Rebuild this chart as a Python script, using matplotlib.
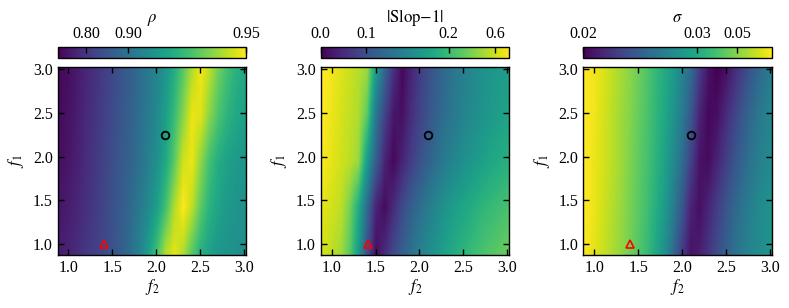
import numpy as np
import matplotlib
matplotlib.use("Agg")
import matplotlib.pyplot as plt

plt.rcParams['font.family'] = 'serif'
plt.rcParams['font.serif'] = ['Liberation Serif', 'DejaVu Serif']
plt.rcParams['mathtext.fontset'] = 'stix'
plt.rcParams['font.size'] = 11

# grid of the maps: f2 columns, f1 rows (bottom -> top)
f2 = [0.9, 1.0, 1.1, 1.2, 1.3, 1.4, 1.5, 1.6, 1.7, 1.8, 1.9,
      2.0, 2.1, 2.2, 2.3, 2.4, 2.5, 2.6, 2.7, 2.8, 2.9, 3.0]
f1 = [0.9, 1.425, 1.95, 2.475, 3.0]

# colour level (0 = darkest, 1 = brightest)
rho_level = [
    [0.08, 0.10, 0.13, 0.16, 0.19, 0.22, 0.26, 0.30, 0.36, 0.44, 0.55, 0.70, 0.88, 0.96, 0.88, 0.74, 0.63, 0.57, 0.53, 0.51, 0.50, 0.49],
    [0.06, 0.08, 0.11, 0.14, 0.17, 0.21, 0.25, 0.29, 0.34, 0.40, 0.47, 0.56, 0.70, 0.88, 1.00, 0.90, 0.75, 0.64, 0.58, 0.54, 0.52, 0.50],
    [0.04, 0.06, 0.09, 0.13, 0.16, 0.20, 0.24, 0.28, 0.32, 0.37, 0.43, 0.50, 0.60, 0.75, 0.93, 0.97, 0.83, 0.70, 0.62, 0.57, 0.54, 0.52],
    [0.03, 0.05, 0.08, 0.12, 0.15, 0.19, 0.23, 0.27, 0.31, 0.36, 0.41, 0.47, 0.56, 0.68, 0.82, 0.97, 0.95, 0.82, 0.72, 0.65, 0.60, 0.57],
    [0.02, 0.04, 0.07, 0.11, 0.14, 0.18, 0.22, 0.26, 0.30, 0.35, 0.40, 0.45, 0.52, 0.62, 0.74, 0.88, 0.98, 0.90, 0.78, 0.70, 0.64, 0.60],
]
slop_level = [
    [0.93, 0.90, 0.86, 0.75, 0.55, 0.25, 0.03, 0.12, 0.22, 0.30, 0.37, 0.43, 0.48, 0.53, 0.58, 0.62, 0.65, 0.68, 0.71, 0.73, 0.75, 0.77],
    [0.96, 0.93, 0.90, 0.80, 0.62, 0.35, 0.10, 0.03, 0.12, 0.22, 0.30, 0.36, 0.42, 0.47, 0.52, 0.56, 0.59, 0.62, 0.65, 0.67, 0.69, 0.71],
    [0.99, 0.96, 0.93, 0.90, 0.85, 0.55, 0.30, 0.10, 0.02, 0.10, 0.18, 0.25, 0.31, 0.37, 0.42, 0.46, 0.50, 0.53, 0.56, 0.59, 0.61, 0.63],
    [1.00, 0.97, 0.94, 0.91, 0.88, 0.75, 0.40, 0.20, 0.06, 0.04, 0.13, 0.20, 0.26, 0.32, 0.37, 0.41, 0.45, 0.48, 0.51, 0.54, 0.56, 0.58],
    [1.00, 0.98, 0.95, 0.92, 0.89, 0.85, 0.55, 0.33, 0.14, 0.02, 0.10, 0.18, 0.24, 0.30, 0.35, 0.40, 0.43, 0.47, 0.50, 0.52, 0.54, 0.55],
]
sigma_level = [
    [0.99, 0.96, 0.92, 0.88, 0.84, 0.79, 0.74, 0.68, 0.60, 0.50, 0.36, 0.18, 0.05, 0.08, 0.15, 0.23, 0.30, 0.37, 0.42, 0.46, 0.49, 0.52],
    [1.00, 0.97, 0.93, 0.89, 0.85, 0.80, 0.75, 0.70, 0.63, 0.55, 0.43, 0.28, 0.10, 0.04, 0.10, 0.18, 0.26, 0.33, 0.39, 0.44, 0.48, 0.51],
    [1.00, 0.97, 0.94, 0.90, 0.86, 0.81, 0.76, 0.71, 0.65, 0.58, 0.48, 0.36, 0.20, 0.05, 0.03, 0.10, 0.18, 0.26, 0.33, 0.39, 0.44, 0.47],
    [1.00, 0.98, 0.94, 0.90, 0.86, 0.82, 0.77, 0.72, 0.66, 0.60, 0.52, 0.42, 0.28, 0.10, 0.02, 0.04, 0.12, 0.20, 0.28, 0.35, 0.41, 0.45],
    [1.00, 0.98, 0.95, 0.91, 0.87, 0.83, 0.78, 0.73, 0.67, 0.61, 0.55, 0.45, 0.35, 0.18, 0.05, 0.00, 0.04, 0.12, 0.20, 0.28, 0.35, 0.41],
]

# colorbar labels: tick position on the bar (0..1) and text
titles = [r'$\rho$', r'$|\mathrm{Slop}{-}1|$', r'$\sigma$']
cb_pos = [[0.152, 0.376, 1.0], [0.0, 0.241, 0.679, 0.923], [0.0, 0.603, 0.817]]
cb_lab = [['0.80', '0.90', '0.95'], ['0.0', '0.1', '0.2', '0.6'], ['0.02', '0.03', '0.05']]

# marked points
circle_pt = (2.1, 2.25)
tri_pt = (1.41, 1.0)

fig = plt.figure(figsize=(7.89, 3.08), dpi=100)
lefts = [0.0729, 0.4065, 0.7393]
w, h, b = 0.239, 0.610, 0.172

dx = f2[1] - f2[0]
dy = f1[1] - f1[0]
ext = [f2[0] - dx / 2, f2[-1] + dx / 2, f1[0] - dy / 2, f1[-1] + dy / 2]

for i, data in enumerate([rho_level, slop_level, sigma_level]):
    ax = fig.add_axes([lefts[i], b, w, h])
    im = ax.imshow(np.array(data), origin='lower', extent=ext, aspect='auto',
                   cmap='viridis', vmin=0, vmax=1, interpolation='bilinear',
                   interpolation_stage='data')
    ax.plot(*circle_pt, 'o', mfc='none', mec='k', ms=5.5, mew=1.3)
    ax.plot(*tri_pt, '^', mfc='none', mec='red', ms=5.5, mew=1.2)
    ax.set_xlim(0.875, 3.025)
    ax.set_ylim(0.875, 3.025)
    ax.set_xticks([1.0, 1.5, 2.0, 2.5, 3.0])
    ax.set_yticks([1.0, 1.5, 2.0, 2.5, 3.0])
    ax.tick_params(direction='in', top=True, right=True, length=4, width=1, labelsize=11.5)
    for s in ax.spines.values():
        s.set_linewidth(1.0)
    ax.set_xlabel(r'$f_2$', fontsize=12, labelpad=1)
    ax.set_ylabel(r'$f_1$', fontsize=12, labelpad=5)

    cax = fig.add_axes([lefts[i], 0.8127, w, 0.0338])
    cb = fig.colorbar(im, cax=cax, orientation='horizontal')
    cb.set_ticks(cb_pos[i])
    cb.set_ticklabels(cb_lab[i])
    cax.xaxis.set_ticks_position('top')
    cax.xaxis.set_label_position('top')
    cax.tick_params(direction='in', length=4, width=1, labelsize=11.5, pad=4)
    cb.outline.set_linewidth(1.0)
    cb.set_label(titles[i], fontsize=12, labelpad=3)

fig.savefig('out.png', dpi=100)
